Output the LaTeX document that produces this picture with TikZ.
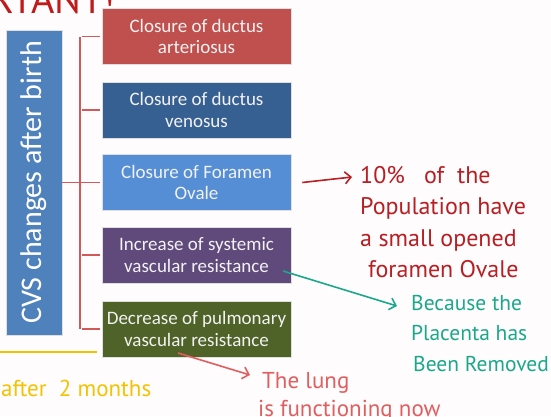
\documentclass[tikz,border=0pt]{standalone}
\usepackage{fontspec}
\setmainfont{Carlito}
\newfontfamily\hand{PT Sans}
\usetikzlibrary{arrows.meta}
\definecolor{bred}{HTML}{C0504D}
\definecolor{bdblue}{HTML}{376092}
\definecolor{blblue}{HTML}{558ED5}
\definecolor{bpurple}{HTML}{604A7B}
\definecolor{bolive}{HTML}{4F6228}
\definecolor{bcvs}{HTML}{4F81BD}
\definecolor{brack}{HTML}{D05A5A}
\definecolor{inkred}{HTML}{B81E22}
\definecolor{inkteal}{HTML}{1BA88A}
\definecolor{inksalmon}{HTML}{E25E5E}
\definecolor{inkyellow}{HTML}{F5C200}
\definecolor{inkdark}{HTML}{C01A1A}
\begin{document}
\begin{tikzpicture}[x=1pt,y=-1pt,
  cbox/.style={minimum width=189pt,minimum height=56pt,inner sep=0pt,align=center,
    text=white!95!black,draw=white!75!gray,line width=0.6pt,
    font=\fontsize{19}{21.5}\selectfont},
  brk/.style={draw=brack,line width=1.1pt},
  note/.style={align=left,inner sep=0pt,anchor=north west,
    font=\hand\fontsize{24}{31.5}\selectfont},
  inkarrow/.style={line width=1.6pt,-{Straight Barb[length=6pt,width=12pt,line width=1.6pt]}}]
\useasboundingbox[fill=white!99!magenta] (0,0) rectangle (551,416);
\clip (0,0) rectangle (551,416);
% heading fragment
\node[text=inkdark,font=\hand\fontsize{40}{42}\selectfont,anchor=base east,inner sep=0pt] (imp) at (116,13) {IMPORTANT!};
% left box
\node[fill=bcvs,minimum width=56pt,minimum height=305pt,inner sep=0pt,draw=white!75!gray,line width=0.6pt] (cvs) at (34,182.5) {};
\node[rotate=90,text=white,font=\fontsize{30}{32}\selectfont,inner sep=0pt] (cvst) at (cvs.center) {CVS changes after birth};
% boxes
\node[cbox,fill=bred] (b1) at (196.5,36.5) {Closure of ductus\\arteriosus};
\node[cbox,fill=bdblue] (b2) at (196.5,110) {Closure of ductus\\venosus};
\node[cbox,fill=blblue] (b3) at (196.5,182.5) {Closure of Foramen\\Ovale};
\node[cbox,fill=bpurple] (b4) at (196.5,255) {Increase of systemic\\vascular resistance};
\node[cbox,fill=bolive] (b5) at (196.5,329) {Decrease of pulmonary\\vascular resistance};
% bracket
\coordinate (sp) at (82,182.5);
\draw[brk] (cvs.east) -- (sp);
\draw[brk] ([xshift=-2pt]b1.west -| sp) -- ([xshift=-2pt]b5.west -| sp);
\foreach \b in {b1,b2,b3,b4,b5}{\draw[brk] (\b.west -| sp) -- ([xshift=-2pt]\b.west);}
% notes
\node[note,text=inkred] (n1) at (360,166) {10\% \ \ of \ the\\Population have\\a small opened\\\hspace*{8pt}foramen Ovale};
\draw[inkarrow,draw=inkred] ([xshift=11pt]b3.east) -- (352,177) coordinate (a1);
\node[note,text=inkteal,font=\hand\fontsize{21.5}{30.5}\selectfont] (n2) at (411,295) {Because the\\Placenta has\\\hspace*{2pt}Been Removed};
\coordinate (t0) at (283,271);
\draw[inkarrow,draw=inkteal] (t0) -- (397,306);
\coordinate (s0) at (178,353);
\draw[inkarrow,draw=inksalmon] (s0) -- (250,375);
\node[note,text=inksalmon,font=\hand\fontsize{23}{28}\selectfont] (n3) at (258,372) {\hspace*{4pt}The lung\\is functioning now};
% yellow
\coordinate (y0) at (0,352);
\coordinate (y1) at (97,352);
\draw[draw=inkyellow,line width=2pt] (y0) -- (y1);
\node[note,text=inkyellow,font=\hand\fontsize{23}{26}\selectfont] (n4) at (1,380) {after \ 2 months};
\end{tikzpicture}
\end{document}
